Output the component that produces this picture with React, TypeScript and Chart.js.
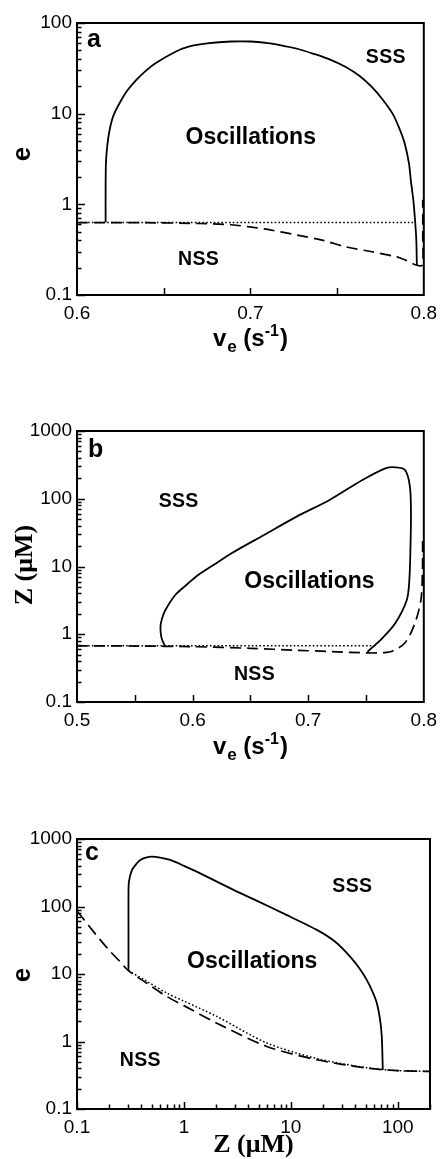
import { useEffect, useRef } from "react";
import { Chart, registerables } from "chart.js";

Chart.register(...registerables);

const SANS = '"Liberation Sans", Arial, Helvetica, sans-serif';
const SERIF = '"Liberation Serif", "Times New Roman", Times, serif';

// ---------- panel a: e versus v_e ----------
const aSolidX = [0.6165, 0.6165, 0.6167, 0.6175, 0.6188, 0.621, 0.6246, 0.629, 0.6341, 0.6395, 0.6455, 0.6568, 0.6644, 0.675, 0.689, 0.7, 0.71, 0.717, 0.727, 0.736, 0.746, 0.755, 0.763, 0.77, 0.776, 0.782, 0.786, 0.789, 0.7915, 0.7925, 0.794, 0.795, 0.7957, 0.796];
const aSolidY = [0.63, 1.5, 2.9, 4.5, 6.6, 9.5, 13.1, 18, 23.5, 29.5, 36.2, 48.2, 54.8, 59.5, 62.5, 62.5, 60, 57, 52, 46, 39.5, 32.7, 26, 19.7, 14.5, 10, 6.8, 4.7, 2.8, 1.85, 1.1, 0.65, 0.4, 0.21];
const aDashX = [0.6, 0.64, 0.67, 0.689, 0.708, 0.727, 0.742, 0.755, 0.77, 0.784, 0.79, 0.7955, 0.7992, 0.7994, 0.7994];
const aDashY = [0.63, 0.627, 0.615, 0.595, 0.535, 0.458, 0.4, 0.34, 0.3, 0.264, 0.24, 0.214, 0.214, 0.45, 1.12];
const aDotX = [0.6, 0.7955];
const aDotY = [0.63, 0.63];

// ---------- panel b: Z versus v_e ----------
const bSolidX = [0.5759, 0.573, 0.5722, 0.5735, 0.5765, 0.585, 0.5963, 0.6048, 0.618, 0.6334, 0.6618, 0.69, 0.7185, 0.7469, 0.7668, 0.7753, 0.7838, 0.788, 0.7889, 0.7885, 0.7875, 0.7853, 0.7753, 0.764, 0.7512];
const bSolidY = [0.675, 0.9, 1.29, 1.7, 2.28, 3.8, 5.65, 7.5, 10.5, 15.6, 29.2, 54.5, 96, 189, 281, 291, 266, 151, 61, 20, 6.3, 3.2, 1.45, 0.87, 0.55];
const bDashX = [0.5, 0.55, 0.6, 0.65, 0.69, 0.72, 0.7512, 0.765, 0.7725, 0.7838, 0.7923, 0.7975, 0.7988, 0.799];
const bDashY = [0.675, 0.67, 0.655, 0.62, 0.58, 0.555, 0.53, 0.535, 0.56, 0.75, 1.45, 3.2, 8, 25];
const bDotX = [0.5, 0.7583];
const bDotY = [0.675, 0.675];

// ---------- panel c: e versus Z ----------
const cSolidX = [0.303, 0.303, 0.303, 0.306, 0.327, 0.36, 0.391, 0.44, 0.502, 0.6, 0.745, 1.0, 1.42, 2.91, 5.0, 8.5, 17.5, 26, 35.8, 44, 51.2, 58, 63.7, 68, 70.8, 72.4];
const cSolidY = [11.2, 50, 150, 233, 348, 430, 489, 530, 547, 530, 489, 400, 310, 176, 118, 79, 45, 30, 18.1, 12, 8.2, 5.5, 3.7, 2.2, 1.19, 0.38];
const cDashX = [0.1, 0.13, 0.165, 0.205, 0.25, 0.303, 0.45, 0.693, 1.0, 2.03, 5.97, 17.5, 51, 100, 200];
const cDashY = [86, 51, 32, 21.5, 15.5, 11.2, 7.3, 4.64, 3.4, 1.87, 0.845, 0.537, 0.405, 0.37, 0.36];
const cDotX = [0.303, 0.45, 0.693, 1.0, 2.03, 5.97, 17.5, 51, 100, 200];
const cDotY = [11.2, 7.8, 5.2, 3.97, 2.35, 0.95, 0.56, 0.41, 0.37, 0.36];

// ---------- tick values ----------
const aXLabels = [0.6, 0.7, 0.8];
const aXTicks = [0.65, 0.7, 0.75];
const bXLabels = [0.5, 0.6, 0.7, 0.8];
const bXTicks = [0.55, 0.6, 0.65, 0.7, 0.75];
const cXLabels = [0.1, 1, 10, 100];
const aYLabels = [0.1, 1, 10, 100];
const bYLabels = [0.1, 1, 10, 100, 1000];
const cYLabels = [0.1, 1, 10, 100, 1000];

// minor ticks 2..9 within each decade of a log axis
const minorLog = (lo: number, hi: number) => {
  const out: number[] = [];
  for (let d = lo; d < hi; d *= 10) {
    for (let k = 2; k <= 9; k++) {
      const v = k * d;
      if (v < hi * 1.0001) out.push(v);
    }
  }
  return out;
};

type Run = { t: string; size: number; dy: number; font: string; gap?: number };
type Curve = { x: number[]; y: number[]; width: number; dash: number[]; tension: number };
type Note = { text: string; x: number; y: number; size: number; spacing: number };

type Spec = {
  top: number;
  height: number;
  area: { top: number; bottom: number; left: number; right: number };
  xType: "linear" | "logarithmic";
  xMin: number;
  xMax: number;
  yMin: number;
  yMax: number;
  xLabels: number[];
  yLabels: number[];
  xMajor: number[];
  xMinor: number[];
  yMajor: number[];
  yMinor: number[];
  curves: Curve[];
  notes: Note[];
  letter: { text: string; dx: number; baseline: number };
  yTitle: { runs: Run[]; x: number; cy: number };
  xTitle: { runs: Run[]; baseline: number };
};

const solid = (x: number[], y: number[], tension = 0.3): Curve => ({ x, y, width: 1.8, dash: [], tension });
const dashed = (x: number[], y: number[], dash = [11, 6]): Curve => ({ x, y, width: 1.7, dash, tension: 0.3 });
const dotted = (x: number[], y: number[]): Curve => ({ x, y, width: 1.5, dash: [1.6, 2.2], tension: 0.3 });

const veTitle: Run[] = [
  { t: "v", size: 24, dy: 0, font: SANS },
  { t: "e", size: 17, dy: 6, font: SANS, gap: 1 },
  { t: " (s", size: 24, dy: 0, font: SANS },
  { t: "-1", size: 16, dy: -10, font: SANS },
  { t: ")", size: 24, dy: 0, font: SANS, gap: 1 },
];
const zTitle: Run[] = [{ t: "Z (\u03BCM)", size: 26, dy: 0, font: SERIF }];
const eTitle: Run[] = [{ t: "e", size: 26, dy: 0, font: SANS }];

const specs: Spec[] = [
  {
    top: 0,
    height: 386,
    area: { top: 23, bottom: 295, left: 77, right: 429 },
    xType: "linear",
    xMin: 0.6,
    xMax: 0.8,
    yMin: 0.1,
    yMax: 100,
    xLabels: aXLabels,
    yLabels: aYLabels,
    xMajor: aXTicks,
    xMinor: [],
    yMajor: aYLabels,
    yMinor: minorLog(0.1, 100),
    curves: [solid(aSolidX, aSolidY, 0.25), dashed(aDashX, aDashY), dotted(aDotX, aDotY)],
    notes: [
      { text: "SSS", x: 0.778, y: 42, size: 19.5, spacing: 0.3 },
      { text: "Oscillations", x: 0.7002, y: 5.5, size: 23, spacing: 0 },
      { text: "NSS", x: 0.67, y: 0.243, size: 19.5, spacing: 0.3 },
    ],
    letter: { text: "a", dx: 10, baseline: 24 },
    yTitle: { runs: eTitle, x: 30, cy: 154 },
    xTitle: { runs: veTitle, baseline: 346 },
  },
  {
    top: 386,
    height: 386,
    area: { top: 45, bottom: 316, left: 77, right: 429 },
    xType: "linear",
    xMin: 0.5,
    xMax: 0.8,
    yMin: 0.1,
    yMax: 1000,
    xLabels: bXLabels,
    yLabels: bYLabels,
    xMajor: bXTicks,
    xMinor: [],
    yMajor: bYLabels,
    yMinor: minorLog(0.1, 1000),
    curves: [solid(bSolidX, bSolidY), dashed(bDashX, bDashY), dotted(bDotX, bDotY)],
    notes: [
      { text: "SSS", x: 0.5878, y: 89.5, size: 19.5, spacing: 0.3 },
      { text: "Oscillations", x: 0.7011, y: 5.9, size: 23, spacing: 0 },
      { text: "NSS", x: 0.6534, y: 0.25, size: 19.5, spacing: 0.3 },
    ],
    letter: { text: "b", dx: 11, baseline: 26 },
    yTitle: { runs: zTitle, x: 32, cy: 179 },
    xTitle: { runs: veTitle, baseline: 368 },
  },
  {
    top: 772,
    height: 387,
    area: { top: 67, bottom: 337, left: 77, right: 430 },
    xType: "logarithmic",
    xMin: 0.1,
    xMax: 200,
    yMin: 0.1,
    yMax: 1000,
    xLabels: cXLabels,
    yLabels: cYLabels,
    xMajor: cXLabels,
    xMinor: minorLog(0.1, 200),
    yMajor: cYLabels,
    yMinor: minorLog(0.1, 1000),
    curves: [solid(cSolidX, cSolidY, 0.25), dashed(cDashX, cDashY, [12, 6]), dotted(cDotX, cDotY)],
    notes: [
      { text: "SSS", x: 37.4, y: 194.5, size: 19.5, spacing: 0.3 },
      { text: "Oscillations", x: 4.35, y: 15, size: 23, spacing: 0 },
      { text: "NSS", x: 0.39, y: 0.514, size: 19.5, spacing: 0.3 },
    ],
    letter: { text: "c", dx: 8, baseline: 21 },
    yTitle: { runs: eTitle, x: 30, cy: 203 },
    xTitle: { runs: zTitle, baseline: 380 },
  },
];

const X_AXIS_H = 40;

// draws a run of mixed-size bold text centred on cx along the baseline
function drawRuns(ctx: CanvasRenderingContext2D, runs: Run[], cx: number, baseline: number) {
  const widths = runs.map((r) => {
    ctx.font = `bold ${r.size}px ${r.font}`;
    return ctx.measureText(r.t).width + (r.gap || 0);
  });
  const total = widths.reduce((s, w) => s + w, 0);
  let x = cx - total / 2;
  ctx.textAlign = "left";
  ctx.textBaseline = "alphabetic";
  runs.forEach((r, i) => {
    ctx.font = `bold ${r.size}px ${r.font}`;
    ctx.fillText(r.t, x + (r.gap || 0), baseline + r.dy);
    x += widths[i];
  });
}

function framePlugin(spec: Spec) {
  return {
    id: "frame",
    afterDraw(chart: any) {
      const { ctx, chartArea: a, scales } = chart;
      const xs = scales.x;
      const ys = scales.y;
      ctx.save();
      ctx.strokeStyle = "#000";
      ctx.fillStyle = "#000";

      // inward tick marks
      ctx.lineWidth = 1.5;
      ctx.beginPath();
      const xTick = (v: number, len: number) => {
        const px = Math.round(xs.getPixelForValue(v)) + 0.5;
        ctx.moveTo(px, a.bottom);
        ctx.lineTo(px, a.bottom - len);
      };
      const yTick = (v: number, len: number) => {
        const py = Math.round(ys.getPixelForValue(v)) + 0.5;
        ctx.moveTo(a.left, py);
        ctx.lineTo(a.left + len, py);
      };
      spec.xMajor.forEach((v) => xTick(v, 7));
      spec.xMinor.forEach((v) => xTick(v, 4.5));
      spec.yMajor.forEach((v) => yTick(v, 8));
      spec.yMinor.forEach((v) => yTick(v, 4.5));
      ctx.stroke();

      // plot frame
      ctx.lineWidth = 2;
      ctx.strokeRect(a.left, a.top, a.right - a.left, a.bottom - a.top);

      // region labels
      ctx.textAlign = "center";
      ctx.textBaseline = "middle";
      spec.notes.forEach((n) => {
        ctx.font = `bold ${n.size}px ${SANS}`;
        (ctx as any).letterSpacing = `${n.spacing}px`;
        ctx.fillText(n.text, xs.getPixelForValue(n.x) + n.spacing / 2, ys.getPixelForValue(n.y));
      });
      (ctx as any).letterSpacing = "0px";

      // panel letter
      ctx.textAlign = "left";
      ctx.textBaseline = "alphabetic";
      ctx.font = `bold 25px ${SANS}`;
      ctx.fillText(spec.letter.text, a.left + spec.letter.dx, a.top + spec.letter.baseline);

      // axis titles
      drawRuns(ctx, spec.xTitle.runs, (a.left + a.right) / 2, spec.xTitle.baseline);
      ctx.save();
      ctx.translate(spec.yTitle.x, spec.yTitle.cy);
      ctx.rotate(-Math.PI / 2);
      drawRuns(ctx, spec.yTitle.runs, 0, 0);
      ctx.restore();

      ctx.restore();
    },
  };
}

function buildConfig(spec: Spec): any {
  const tickFont = { family: SANS, size: 19 };
  return {
    type: "scatter",
    data: {
      datasets: spec.curves.map((c) => ({
        data: c.x.map((x, i) => ({ x, y: c.y[i] })),
        showLine: true,
        borderColor: "#000",
        borderWidth: c.width,
        borderDash: c.dash,
        borderCapStyle: "butt",
        pointRadius: 0,
        tension: c.tension,
        fill: false,
      })),
    },
    options: {
      animation: false,
      responsive: false,
      devicePixelRatio: 1,
      events: [],
      layout: {
        padding: {
          left: 0,
          right: 444 - spec.area.right,
          top: spec.area.top,
          bottom: spec.height - spec.area.bottom - X_AXIS_H,
        },
      },
      plugins: {
        legend: { display: false },
        tooltip: { enabled: false },
        title: { display: false },
      },
      scales: {
        x: {
          type: spec.xType,
          position: "bottom",
          min: spec.xMin,
          max: spec.xMax,
          grid: { display: false, drawTicks: false },
          border: { display: false },
          afterBuildTicks: (s: any) => {
            s.ticks = spec.xLabels.map((v) => ({ value: v }));
          },
          afterFit: (s: any) => {
            s.height = X_AXIS_H;
          },
          ticks: {
            color: "#000",
            font: tickFont,
            padding: 7,
            maxRotation: 0,
            autoSkip: false,
            callback: (v: number) => String(v),
          },
        },
        y: {
          type: "logarithmic",
          position: "left",
          min: spec.yMin,
          max: spec.yMax,
          grid: { display: false, drawTicks: false },
          border: { display: false },
          afterBuildTicks: (s: any) => {
            s.ticks = spec.yLabels.map((v) => ({ value: v }));
          },
          afterFit: (s: any) => {
            s.width = spec.area.left;
          },
          ticks: {
            color: "#000",
            font: tickFont,
            padding: 5,
            autoSkip: false,
            callback: (v: number) => String(v),
          },
        },
      },
    },
    plugins: [framePlugin(spec)],
  };
}

function Panel({ spec }: { spec: Spec }) {
  const ref = useRef<HTMLCanvasElement>(null);
  useEffect(() => {
    if (!ref.current) return;
    const chart = new Chart(ref.current, buildConfig(spec));
    return () => chart.destroy();
  }, [spec]);
  return (
    <div style={{ position: "absolute", left: 0, top: spec.top, width: 444, height: spec.height }}>
      <canvas ref={ref} width={444} height={spec.height} style={{ display: "block", width: 444, height: spec.height }} />
    </div>
  );
}

export default function App() {
  return (
    <div style={{ position: "absolute", left: 0, top: 0, width: 444, height: 1159, background: "#fff" }}>
      {specs.map((s, i) => (
        <Panel key={i} spec={s} />
      ))}
    </div>
  );
}
